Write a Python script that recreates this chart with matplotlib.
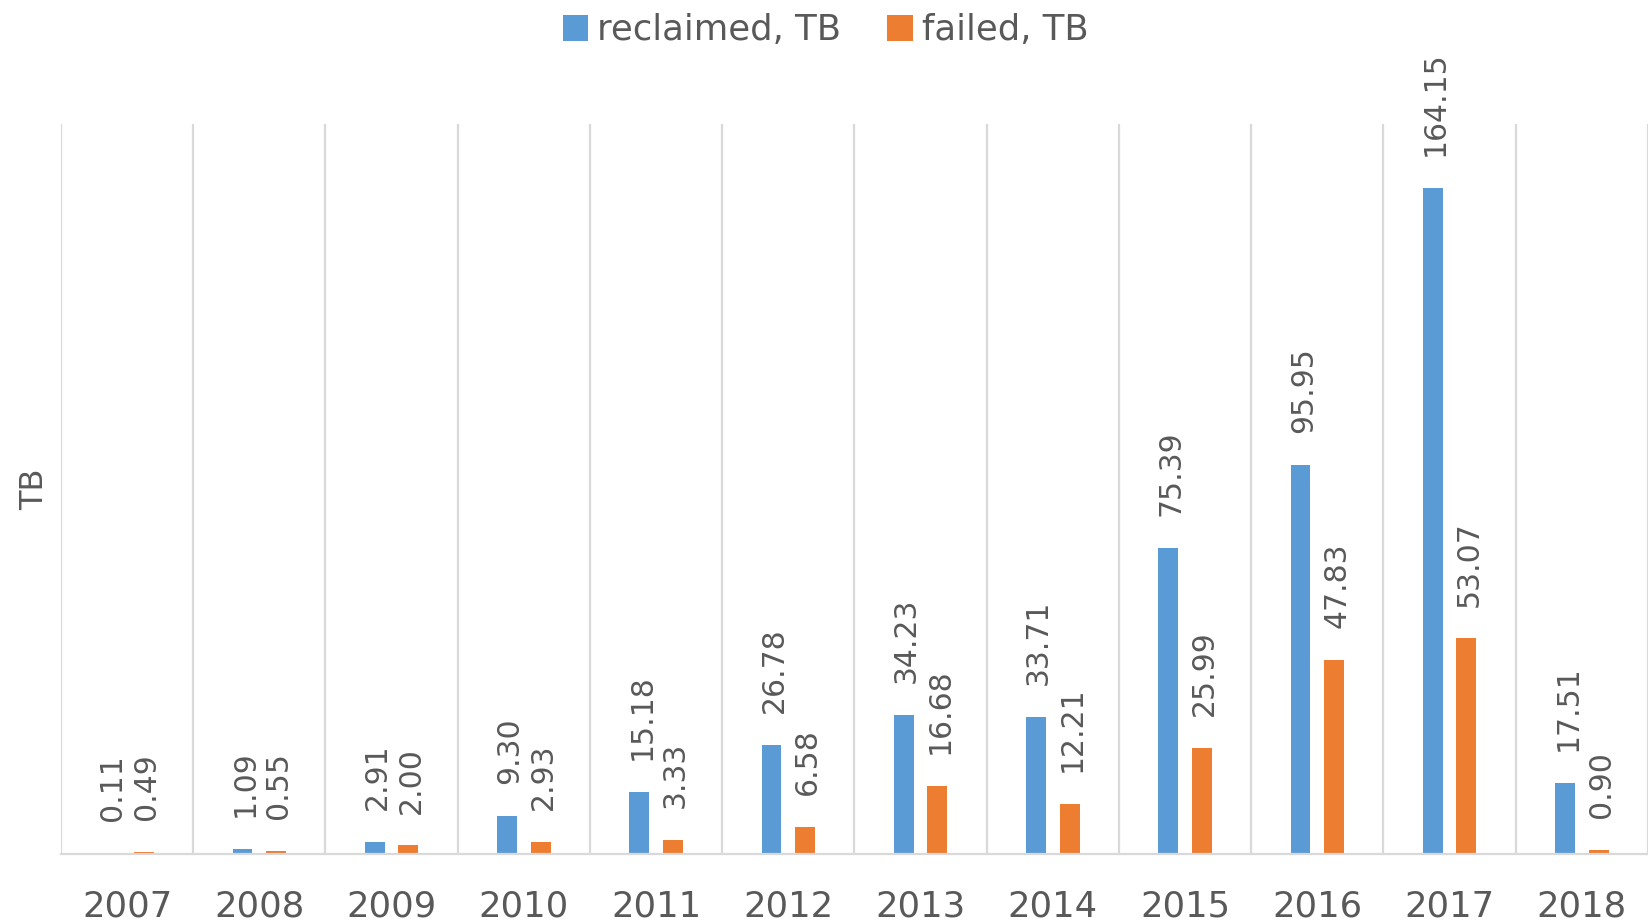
import matplotlib
matplotlib.use("Agg")
import matplotlib.pyplot as plt
import numpy as np

years = ["2007", "2008", "2009", "2010", "2011", "2012", "2013", "2014", "2015", "2016", "2017", "2018"]
reclaimed = [0.11, 1.09, 2.91, 9.30, 15.18, 26.78, 34.23, 33.71, 75.39, 95.95, 164.15, 17.51]
failed = [0.49, 0.55, 2.00, 2.93, 3.33, 6.58, 16.68, 12.21, 25.99, 47.83, 53.07, 0.90]
series_names = ["reclaimed, TB", "failed, TB"]

BLUE = "#5B9BD5"
ORANGE = "#ED7D31"
TEXT = "#595959"
GRID = "#D9D9D9"

plt.rcParams['font.family'] = ['DejaVu Sans']

fig = plt.figure(figsize=(16.48, 9.23), dpi=100)
ax = fig.add_axes([0.037, 0.0752, 0.963, 0.7905])

x = np.arange(len(years))
w = 0.15
off = 0.127
b1 = ax.bar(x - off, reclaimed, width=w, color=BLUE, label=series_names[0], zorder=3)
b2 = ax.bar(x + off, failed, width=w, color=ORANGE, label=series_names[1], zorder=3)

for bars, vals in ((b1, reclaimed), (b2, failed)):
    for rect, v in zip(bars, vals):
        ax.annotate(f"{v:.2f}", xy=(rect.get_x() + rect.get_width() / 2 + 0.02, rect.get_height()),
                    xytext=(0, 23), textcoords="offset points", rotation=90,
                    ha="center", va="bottom", fontsize=21.5, color=TEXT,
                    annotation_clip=False, clip_on=False)

ax.set_xlim(-0.5, len(years) - 0.5)
ax.set_ylim(0, 180)
ax.set_xticks(x)
ax.set_xticklabels(years, fontsize=25.5, color=TEXT)
ax.tick_params(axis="x", length=0, pad=26)
ax.set_yticks([])
ax.set_xticks(np.arange(-0.5, len(years) + 0.5, 1.0), minor=True)
ax.tick_params(axis="x", which="minor", length=0)
ax.grid(which="minor", axis="x", color=GRID, linewidth=1.6, zorder=0)
ax.grid(which="major", visible=False)

for s in ("top", "right", "left"):
    ax.spines[s].set_visible(False)
ax.spines["bottom"].set_color(GRID)
ax.spines["bottom"].set_linewidth(1.6)
ax.spines["bottom"].set_zorder(4)

ax.set_ylabel("TB", fontsize=23, color=TEXT)
ax.yaxis.set_label_coords(-0.007, 0.5)

fig.legend(handles=[b1, b2], labels=series_names, loc="center", bbox_to_anchor=(0.501, 0.967),
           ncol=2, frameon=False, fontsize=25.5, labelcolor=TEXT,
           handlelength=0.72, handleheight=0.72, handletextpad=0.25, columnspacing=1.3)

fig.savefig("out.png", dpi=100)
